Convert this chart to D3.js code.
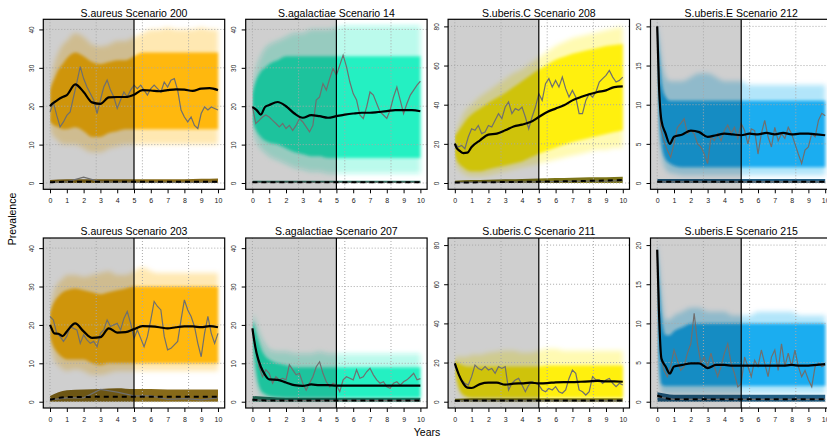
<!DOCTYPE html>
<html>
<head>
<meta charset="utf-8">
<script src="https://cdn.jsdelivr.net/npm/d3@7"></script>
<style>
body{margin:0;background:#fff;}
svg{display:block;font-family:"Liberation Sans",Arial,sans-serif;}
</style>
</head>
<body>
<div id="chart"></div>
<script>
// Scenario simulation panels: 2 rows x 4 pathogens
// band = envelope of the simulated runs, black = mean, grey = one observed run

const bandYears = [0, 0.1, 0.25, 0.5, 0.75, 1, 1.5, 2, 2.5, 3, 3.5, 4, 4.5, 5, 5.5, 6, 6.5, 7, 7.5, 8, 8.5, 9, 9.5, 10];
const obsYears = [0, 0.2, 0.4, 0.6, 0.8, 1, 1.2, 1.4, 1.6, 1.8, 2, 2.2, 2.4, 2.6, 2.8, 3, 3.2, 3.4, 3.6, 3.8, 4, 4.2, 4.4, 4.6, 4.8,
                  5, 5.2, 5.4, 5.6, 5.8, 6, 6.2, 6.4, 6.6, 6.8, 7, 7.2, 7.4, 7.6, 7.8, 8, 8.2, 8.4, 8.6, 8.8, 9, 9.2, 9.4, 9.6, 9.8, 10];
const lowYears = [0, 1, 2, 3, 4, 5, 6, 7, 8, 9, 10];
const xTicks = [0, 1, 2, 3, 4, 5, 6, 7, 8, 9, 10];
const gridYears = [0, 2.75, 5.5, 8.25];
const yTicks40 = [0, 10, 20, 30, 40];
const yTicks80 = [0, 20, 40, 60, 80];
const yTicks20 = [0, 5, 10, 15, 20];

// ---- S.aureus Scenario 200
const mean200 = [20, 20.5, 21, 21.8, 22.4, 22.9, 25.7, 23.7, 21.0, 20.6, 22.3, 22.4, 22.4, 23, 24.2, 24.1, 23.9, 24.2, 24.4, 24.3, 24, 24.6, 24.7, 24.2];
const innerHi200 = [24, 25.5, 27, 29.5, 31, 32.5, 34, 33, 31.5, 31, 31.5, 32, 32, 33, 34, 34, 34, 34, 34, 34, 34, 34, 34, 34];
const innerLo200 = [16, 15.5, 15, 14.5, 14, 14, 14.5, 13.5, 12, 12, 13, 13.5, 14, 14, 14, 14, 14, 14, 14, 14, 14, 14, 14, 14];
const outerHi200 = [25, 28, 31, 34, 36, 37, 39, 38, 36, 35.5, 36, 37, 37, 38, 39, 40, 40, 40.5, 40, 40, 40, 40.5, 40, 40];
const outerLo200 = [15, 13, 12, 11, 10, 10, 10, 9, 8, 8, 9, 9.5, 10, 10, 10, 10, 10, 10, 10, 10, 10, 10, 10, 10];
const obs200 = [18.5, 21, 17.6, 14.6, 15.9, 17.6, 18.5, 22.4, 26.3, 30.3, 27.2, 25, 23.3, 21.6, 18.1, 21.6, 25, 26.8, 24.2, 22.4, 19.4, 21.6, 23.7, 22.4, 24.2,
                25.5, 24.6, 25.5, 24.2, 22.9, 24.6, 25.5, 24.6, 23.7, 26.3, 25, 26.8, 27.2, 24.2, 19, 17.2, 15.9, 17.2, 15, 14.2, 18.1, 19.8, 19, 19.8, 19.4, 19];
const lowHi200 = [0.8, 1, 1, 1, 1, 1, 1, 1, 1, 1.1, 1.2];
const lowMean200 = [0.2, 0.3, 0.3, 0.3, 0.3, 0.3, 0.3, 0.3, 0.3, 0.3, 0.3];
const lowObs200 = [0.2, 0.3, 1.5, 0.3, 0.2, 0.2, 0.2, 0.2, 0.2, 0.2, 0.2];

// ---- S.agalactiae Scenario 14
const mean14 = [19.8, 19.5, 19, 17.8, 19.8, 20.3, 21.1, 20, 18.1, 17.0, 17.7, 17.4, 17, 17.4, 17.8, 18.1, 18.3, 18.3, 18.5, 18.7, 19, 19, 19, 18.7];
const innerHi14 = [23, 25, 27, 29, 30, 31, 32, 33, 33, 33, 33, 33, 33, 33, 33, 33, 33, 33, 33, 33, 33, 33, 33, 33];
const innerLo14 = [17, 15, 13.5, 12, 11, 10.5, 10, 9, 8, 7.5, 7, 7, 6.5, 6.5, 6.5, 6.5, 6.5, 6.5, 6.5, 6.5, 6.5, 6.5, 6.5, 6.5];
const outerHi14 = [24, 27, 30, 33, 35, 36, 37, 38, 39, 39, 40, 40, 40, 40.5, 41, 41, 41, 41, 41, 41, 41, 41, 41, 41];
const outerLo14 = [16, 13, 11, 9, 8, 7, 6, 5, 4, 3.5, 3, 3, 2.5, 2.5, 2.5, 2.5, 2.5, 2.5, 2.5, 2.5, 2.5, 2.5, 2.5, 2.5];
const obs14 = [20, 15.5, 16.3, 17.2, 17.7, 17.2, 16.3, 15.5, 14.6, 15.5, 14.2, 15, 13.7, 15, 16.8, 15.9, 14.6, 13.3, 15, 21.6, 22.4, 25.9, 24.2, 27.2, 29.8,
               28.1, 30.7, 33.3, 30.3, 26.3, 23.3, 21.6, 17.7, 16.8, 19.8, 23.7, 22.9, 20.7, 18.5, 17.7, 16.8, 19, 22.4, 25, 21.6, 18.1, 20.7, 22.9, 24.2, 25.5, 26.5];
const lowHi14 = [0.6, 0.6, 0.6, 0.6, 0.6, 0.6, 0.6, 0.6, 0.6, 0.6, 0.6];
const lowMean14 = [0.2, 0.2, 0.2, 0.2, 0.2, 0.2, 0.2, 0.2, 0.2, 0.2, 0.2];
const lowObs14 = [0.2, 0.2, 0.2, 0.2, 0.2, 0.2, 0.2, 0.2, 0.2, 0.2, 0.2];

// ---- S.uberis.C Scenario 208
const mean208 = [20.1, 18, 16.7, 15.3, 15.5, 18.4, 21.8, 24.7, 25.2, 26.9, 28.9, 29.8, 31.1, 33.7, 36.3, 38, 39.7, 42.2, 43.9, 45.3, 46.5, 47.3, 49, 49.4];
const innerHi208 = [24, 25, 27, 30, 33, 35, 38, 41, 43.5, 46, 49, 52, 55, 58, 60.5, 63, 64.5, 66, 67, 68, 69, 70, 70.5, 71];
const innerLo208 = [15, 12, 10, 8, 6.5, 6, 6, 7, 8, 9, 10, 11, 13, 15, 16.5, 18, 19.5, 21, 22, 23, 24, 25, 26, 27];
const outerHi208 = [25, 27, 30, 35, 38, 40, 44, 47, 50, 53, 56, 58, 61, 64, 67, 70, 72, 74, 75, 76, 77, 78, 79, 80];
const outerLo208 = [13, 9, 7, 5, 4, 3.5, 3.5, 4, 5, 6, 7, 8, 9, 10, 11, 12, 13, 14, 15, 16, 17, 17, 18, 18];
const obs208 = [20.1, 18.4, 19.2, 17.5, 23.5, 27.7, 26.9, 29.4, 25.2, 26, 29.4, 28.6, 32, 35.4, 32.9, 38.8, 41.4, 35.4, 38, 37.1, 38.8, 33.7, 27.7, 33.7, 38.8,
                45.6, 42.2, 50.7, 53.3, 49, 52.4, 49, 54.1, 48.2, 43.9, 47.3, 43.9, 35.4, 35.4, 42.2, 45.6, 43.9, 46.5, 51.6, 53.3, 55, 57.5, 54.1, 51.6, 52.4, 54.1];
const lowHi208 = [1.2, 1.5, 1.7, 1.9, 2.1, 2.3, 2.5, 2.7, 2.9, 3, 3.2];
const lowMean208 = [0.2, 0.3, 0.4, 0.5, 0.6, 0.7, 0.8, 0.9, 1.1, 1.3, 1.5];
const lowObs208 = [0.2, 0.3, 0.3, 0.4, 0.5, 0.6, 0.7, 0.8, 1, 1, 1.2];

// ---- S.uberis.E Scenario 212
const mean212 = [20, 12.7, 8, 6.3, 5.0, 5.9, 6.2, 6.7, 6.5, 5.9, 6.1, 6.3, 6.2, 6.1, 6.3, 6.2, 6.4, 6.2, 6.4, 6.2, 6.3, 6.3, 6.2, 6.1];
const innerHi212 = [20, 17, 13, 11, 10.5, 10.5, 10.5, 10.5, 10.5, 10.5, 10.5, 10.5, 10.5, 10.5, 10.5, 10.5, 10.5, 10.5, 10.5, 10.5, 10.5, 10.5, 10.5, 10.5];
const innerLo212 = [19, 10, 5, 3, 2.5, 2.2, 2, 2, 2, 2, 2, 2, 2, 2, 2, 2, 2, 2, 2, 2, 2, 2, 2, 2];
const outerHi212 = [20.5, 19, 16, 13.5, 13, 13, 13, 13.5, 14, 14, 13.5, 13, 13, 13, 12.5, 12.5, 12.5, 12.5, 12.5, 12.5, 12.5, 12.5, 12.5, 12.5];
const outerLo212 = [18.5, 8, 3.5, 1.8, 1.3, 1.2, 1, 1, 1, 1, 1, 1, 1, 1, 1, 1, 1, 1, 1, 1, 1, 1, 1, 1];
const obs212 = [20, 7.1, 5.4, 4.2, 3.3, 5, 7.1, 7.6, 8.2, 6.3, 6.7, 6.3, 5, 4.6, 3.7, 2.5, 5.9, 5.4, 6.3, 5.4, 6.7, 7.4, 6.3, 7.1, 5.7,
                7.6, 6.7, 5, 6.9, 6.7, 3.7, 6.3, 8, 5.9, 4.6, 7.1, 5.4, 6.3, 5.7, 7.1, 6.3, 5, 3.7, 2.5, 4.2, 4.6, 6.3, 5.9, 8, 8.9, 8.6];
const lowHi212 = [0.5, 0.5, 0.5, 0.5, 0.5, 0.5, 0.5, 0.5, 0.5, 0.5, 0.5];
const lowMean212 = [0.15, 0.15, 0.15, 0.15, 0.15, 0.15, 0.15, 0.15, 0.15, 0.15, 0.15];
const lowObs212 = [0.15, 0.15, 0.15, 0.15, 0.15, 0.15, 0.15, 0.15, 0.15, 0.15, 0.15];

// ---- S.aureus Scenario 203
const mean203 = [20, 19, 17.8, 17.7, 17.1, 18.3, 20.4, 18.3, 16.6, 16.8, 19.1, 18, 18.1, 18.9, 19.7, 19.6, 19.4, 19.1, 19.4, 19.6, 19.6, 19.4, 19.7, 19.4];
const innerHi203 = [23, 24.5, 26, 27.5, 28.5, 29, 29.5, 29, 28.5, 28, 28.5, 29, 29.5, 30, 30, 30, 30, 30, 30, 30, 30, 30, 30, 30];
const innerLo203 = [17, 15.5, 14, 12.5, 11.5, 11, 11, 11, 10, 9.5, 10, 10, 10, 10, 10, 10, 10, 10, 10, 10, 10, 10, 10, 10];
const outerHi203 = [24, 26.5, 29, 31, 32, 33, 33, 32.5, 33, 33.5, 34, 33, 33, 34, 35, 34, 33.5, 33.5, 33.5, 33.5, 33.5, 33.5, 33.5, 33.5];
const outerLo203 = [16, 13.5, 11, 9.5, 8.5, 8, 8.5, 8, 7, 7, 7.5, 8, 8, 8, 8, 8, 8, 8, 8, 8, 8, 8, 8, 8];
const obs203 = [22.2, 21.3, 17.8, 17, 15.7, 17, 19.6, 19.1, 18.7, 15.2, 17.4, 16.1, 15.2, 15.7, 14.3, 17.8, 18.7, 21.3, 19.6, 20, 20.4, 18.7, 21.7, 23.5, 20.4,
                16.5, 18.7, 16.5, 14.3, 17, 21.3, 26.1, 24.8, 23.9, 17, 13.5, 13.9, 14.8, 15.7, 21.3, 26.5, 23.9, 22.2, 19.6, 15.2, 11.7, 17.8, 22.2, 17.8, 15.2, 17.8];
const lowHi203 = [1.5, 3, 3.2, 3.3, 3.5, 3.3, 3.3, 3.2, 3.2, 3.2, 3.2];
const lowMean203 = [0.5, 1.2, 1.2, 1.3, 1.3, 1.3, 1.3, 1.3, 1.3, 1.3, 1.3];
const lowObs203 = [0.5, 1, 1, 3.2, 2.5, 1.5, 1.5, 0.6, 0.8, 0.5, 1];

// ---- S.agalactiae Scenario 207
const mean207 = [19.1, 16.1, 12.6, 9.1, 7, 5.8, 5.7, 5, 4.3, 4.1, 4.5, 4.3, 4.3, 4.2, 4.2, 4.2, 4.2, 4.2, 4.2, 4.2, 4.2, 4.2, 4.2, 4.2];
const innerHi207 = [21, 20, 17.5, 14, 12, 11, 10, 9.5, 9, 9, 9, 9, 9, 9, 9, 9, 9, 9, 9, 9, 9, 9, 9, 9];
const innerLo207 = [17, 12, 7, 3, 2, 1.5, 1.2, 1, 1, 1, 1, 1, 1, 1, 1, 1, 1, 1, 1, 1, 1, 1, 1, 1];
const outerHi207 = [23, 22, 20, 17, 15, 13.5, 13, 13, 12.5, 12.5, 12.5, 13, 12.5, 12.5, 12.5, 12.5, 12.5, 12.5, 12.5, 12.5, 12.5, 12.5, 12.5, 12.5];
const outerLo207 = [16, 10, 5, 1.5, 1, 0.8, 0.6, 0.5, 0.5, 0.5, 0.5, 0.5, 0.5, 0.5, 0.5, 0.5, 0.5, 0.5, 0.5, 0.5, 0.5, 0.5, 0.5, 0.5];
const obs207 = [19.1, 13.5, 9.1, 6.5, 8.3, 7.4, 4.8, 6.5, 5.7, 6.1, 5.7, 9.6, 8.3, 7, 7.4, 4.8, 3, 4.8, 6.5, 9.1, 10.4, 7.4, 5.2, 3.9, 4.8,
                4.3, 2.6, 5.7, 6.5, 6.1, 5.7, 8.3, 6.1, 6.5, 7.8, 8.7, 7, 5.7, 4.8, 5.2, 3.9, 3.5, 4.8, 5.2, 4.3, 5.2, 5.7, 6.5, 7.4, 5.7, 6];
const lowHi207 = [1.5, 1.2, 1, 1, 1, 1, 1, 1, 1, 1, 1];
const lowMean207 = [0.5, 0.3, 0.3, 0.3, 0.3, 0.3, 0.3, 0.3, 0.3, 0.3, 0.3];
const lowObs207 = [0.5, 0.3, 0.3, 0.3, 0.3, 0.3, 0.3, 0.3, 0.3, 0.3, 0.3];

// ---- S.uberis.C Scenario 211
const mean211 = [19.6, 17, 13.6, 9.4, 7.2, 7.0, 9.0, 9.7, 9.7, 8.7, 9.2, 9.4, 9.7, 9.4, 9.5, 9.9, 10, 10, 10.2, 10.4, 10.6, 10.4, 10.4, 10.2];
const innerHi211 = [21, 20.5, 19.5, 18.5, 18, 18, 18, 18, 18, 18, 18, 18, 18, 18, 18.5, 18.5, 18.5, 18.5, 18.5, 18.5, 18.5, 18.5, 18.5, 18.5];
const innerLo211 = [17, 12, 7, 3.5, 2.5, 2, 2, 2, 2, 2, 2, 2, 2, 2, 2, 2, 2, 2, 2, 2, 2, 2, 2, 2];
const outerHi211 = [23, 23, 23, 23, 23, 24, 24, 25, 25.5, 26, 26, 25, 25, 26, 27, 27, 26, 26, 26, 26, 26, 26, 26, 26];
const outerLo211 = [16, 10, 5, 2, 1.2, 1, 1, 1, 1, 1, 1, 1, 1, 1, 1, 1, 1, 1, 1, 1, 1, 1, 1, 1];
const obs211 = [19.6, 14.5, 11.1, 9.4, 8.5, 12.8, 18.7, 17, 16.2, 17.9, 16.2, 17, 14.5, 17.9, 17, 17.9, 6, 9.4, 11.1, 11.9, 8.5, 5.1, 8.5, 10.2, 9.4,
                8.5, 6, 5.1, 6.8, 6, 7.7, 5.1, 4.3, 6, 11.9, 16.2, 14.5, 6, 5.1, 3.4, 5.1, 12.8, 11.1, 11.1, 9.4, 11.1, 11.9, 9.4, 7.7, 9.4, 8.5];
const lowHi211 = [1.5, 1.8, 1.8, 1.8, 1.8, 1.8, 1.8, 1.8, 1.8, 1.8, 1.8];
const lowMean211 = [0.5, 0.6, 0.6, 0.6, 0.6, 0.6, 0.6, 0.6, 0.6, 0.6, 0.6];
const lowObs211 = [0.5, 0.4, 0.4, 0.4, 0.4, 0.4, 0.4, 0.4, 0.4, 0.4, 0.4];

// ---- S.uberis.E Scenario 215
const mean215 = [19.4, 11.7, 5.5, 4.5, 3.6, 4.5, 4.7, 4.9, 4.9, 4.3, 4.7, 4.7, 4.6, 4.6, 4.6, 4.6, 4.6, 4.6, 4.6, 4.7, 4.6, 4.6, 4.7, 4.8];
const innerHi215 = [20, 16, 11, 8.5, 8.5, 9, 9.5, 10, 10, 10, 10, 10, 10, 10, 10, 10, 10, 10, 10, 10, 10, 10, 10, 10];
const innerLo215 = [18, 6, 2.2, 2, 2, 2, 2, 2, 2, 2, 2, 2, 2, 2, 2, 2, 2, 2, 2, 2, 2, 2, 2, 2];
const outerHi215 = [20.5, 18, 14, 10.5, 10.5, 11, 11.5, 12, 12, 11.5, 11.5, 11.5, 11, 11, 11, 11.5, 11.5, 11.5, 11.5, 11.5, 11, 11, 11, 11];
const outerLo215 = [17, 4, 1.2, 1, 1, 1, 1, 1, 1, 1, 1, 1, 1, 1, 1, 1, 1, 1, 1, 1, 1, 1, 1, 1];
const obs215 = [19.4, 6.2, 4, 3.2, 4.5, 6.6, 5.3, 4, 4.5, 6.2, 7.4, 11.3, 7.4, 4.9, 5.7, 4.5, 6.2, 4.5, 3.2, 4.5, 6.2, 7.4, 4.9, 3.6, 1.9,
                2.3, 5.7, 4.5, 3.2, 5.3, 4.5, 6.6, 4.9, 3.2, 5.7, 6.6, 4, 7.4, 4.5, 6.2, 4.5, 6.6, 4.5, 3.2, 4, 2.8, 1.9, 4.5, 4.9, 4.5, 4.7];
const lowHi215 = [1.2, 0.9, 0.9, 0.9, 0.9, 0.9, 0.9, 0.9, 0.9, 0.9, 0.9];
const lowMean215 = [0.8, 0.3, 0.3, 0.3, 0.3, 0.3, 0.3, 0.3, 0.3, 0.3, 0.3];
const lowObs215 = [0.6, 0.3, 0.3, 0.3, 0.3, 0.3, 0.3, 0.3, 0.3, 0.3, 0.3];

const panelTitles = ["S.aureus Scenario 200", "S.agalactiae Scenario 14", "S.uberis.C Scenario 208", "S.uberis.E Scenario 212",
                     "S.aureus Scenario 203", "S.agalactiae Scenario 207", "S.uberis.C Scenario 211", "S.uberis.E Scenario 215"];

// colours per pathogen (column)
const bandColors = ["#ffb400", "#14f0bf", "#fff000", "#12a8f0"];
const lowColors = ["#7a5a00", "#0e6650", "#6e6600", "#0b4c75"];
const yMax = [41, 41, 80.4, 20.1];
const yTickSets = [yTicks40, yTicks40, yTicks80, yTicks20];

const W = 827, H = 438;
const boxLeft0 = 43.3, colPitch = 202.4, boxW = 181.4, boxH = 170;
const rowTops = [19.3, 238];

const svg = d3.select("#chart").append("svg").attr("width", W).attr("height", H);
const defs = svg.append("defs");
defs.append("filter").attr("id", "soft").append("feGaussianBlur").attr("stdDeviation", 1.6);
defs.append("filter").attr("id", "softer").append("feGaussianBlur").attr("stdDeviation", 2.8);

class ScenarioPanel {
    constructor(idx, d) {
        const col = idx % 4, row = Math.floor(idx / 4);
        this.left = boxLeft0 + col * colPitch;
        this.top = rowTops[row];
        const ymax = yMax[col];

        this.x = d3.scaleLinear().domain([-0.4, 10.4]).range([this.left, this.left + boxW]);
        this.y = d3.scaleLinear().domain([-0.04 * ymax, 1.04 * ymax]).range([this.top + boxH, this.top]);
        const x = this.x, y = this.y;

        defs.append("clipPath").attr("id", "clip" + idx)
            .append("rect").attr("x", this.left).attr("y", this.top).attr("width", boxW).attr("height", boxH);
        // runs start at year 0, so the blurred bands get their own clip from there
        defs.append("clipPath").attr("id", "runclip" + idx)
            .append("rect").attr("x", x(0)).attr("y", this.top).attr("width", x(10.4) - x(0)).attr("height", boxH);

        const g = svg.append("g").attr("clip-path", "url(#clip" + idx + ")");
        const runs = g.append("g").attr("clip-path", "url(#runclip" + idx + ")");

        const area = (ys, lo, hi) => d3.area()
            .x((v, i) => x(ys[i]))
            .y0((v, i) => y(lo[i]))
            .y1((v, i) => y(hi[i]))
            .curve(d3.curveMonotoneX)(lo);

        // faint spread of the runs
        runs.append("g").attr("filter", "url(#softer)")
            .append("path")
            .attr("d", area(bandYears, d.outerLo, d.outerHi))
            .attr("fill", bandColors[col])
            .attr("opacity", 0.3);
        // dense core of the runs
        runs.append("g").attr("filter", "url(#soft)")
            .append("path")
            .attr("d", area(bandYears, d.innerLo, d.innerHi))
            .attr("fill", bandColors[col])
            .attr("opacity", 0.92);

        // low-prevalence runs near zero
        const zeros = lowYears.map(() => 0);
        runs.append("path")
            .attr("d", area(lowYears, zeros, d.lowHi))
            .attr("fill", lowColors[col])
            .attr("opacity", 0.9);

        // grey shading for the first five years
        g.append("rect")
            .attr("x", x(-0.4)).attr("y", this.top)
            .attr("width", x(5) - x(-0.4)).attr("height", boxH)
            .attr("fill", "#000").attr("opacity", 0.19);

        // dotted grid
        g.selectAll(".vgrid").data(gridYears).enter().append("line")
            .attr("x1", v => x(v)).attr("x2", v => x(v))
            .attr("y1", this.top).attr("y2", this.top + boxH)
            .attr("stroke", "#a8a8a8").attr("stroke-width", 1).attr("stroke-dasharray", "1,2");
        g.selectAll(".hgrid").data(yTickSets[col]).enter().append("line")
            .attr("x1", this.left).attr("x2", this.left + boxW)
            .attr("y1", v => y(v)).attr("y2", v => y(v))
            .attr("stroke", "#a8a8a8").attr("stroke-width", 1).attr("stroke-dasharray", "1,2");

        const line = (ys, vals, curve) => d3.line()
            .x((v, i) => x(ys[i]))
            .y(v => y(v))
            .curve(curve)(vals);

        // observed runs
        g.append("path").attr("d", line(obsYears, d.obs, d3.curveLinear))
            .attr("fill", "none").attr("stroke", "#6f6f6f").attr("stroke-width", 1.2);
        g.append("path").attr("d", line(lowYears, d.lowObs, d3.curveLinear))
            .attr("fill", "none").attr("stroke", "#6f6f6f").attr("stroke-width", 1.2);

        // means
        g.append("path").attr("d", line(bandYears, d.mean, d3.curveMonotoneX))
            .attr("fill", "none").attr("stroke", "#000").attr("stroke-width", 2.2);
        g.append("path").attr("d", line(lowYears, d.lowMean, d3.curveMonotoneX))
            .attr("fill", "none").attr("stroke", "#000").attr("stroke-width", 2)
            .attr("stroke-dasharray", "5,4");

        // year 5 marker
        svg.append("line")
            .attr("x1", x(5)).attr("x2", x(5))
            .attr("y1", this.top).attr("y2", this.top + boxH)
            .attr("stroke", "#000").attr("stroke-width", 1.2);

        // box
        svg.append("rect")
            .attr("x", this.left).attr("y", this.top)
            .attr("width", boxW).attr("height", boxH)
            .attr("fill", "none").attr("stroke", "#000").attr("stroke-width", 1.2);

        // axes
        const xa = svg.append("g")
            .attr("transform", "translate(0," + (this.top + boxH) + ")")
            .call(d3.axisBottom(x).tickValues(xTicks).tickSize(4).tickSizeOuter(0).tickPadding(5));
        xa.select(".domain").remove();
        xa.selectAll("text").attr("font-size", 7).attr("font-family", "Liberation Sans, Arial, sans-serif").attr("fill", "#222");
        xa.selectAll("line").attr("stroke", "#000");

        const ya = svg.append("g")
            .attr("transform", "translate(" + this.left + ",0)")
            .call(d3.axisLeft(y).tickValues(yTickSets[col]).tickSize(4).tickSizeOuter(0));
        ya.select(".domain").remove();
        ya.selectAll("line").attr("stroke", "#000");
        ya.selectAll("text")
            .attr("x", null).attr("dy", null)
            .attr("text-anchor", "middle")
            .attr("transform", "translate(-9.5,0) rotate(-90)")
            .attr("font-size", 6.5).attr("font-family", "Liberation Sans, Arial, sans-serif").attr("fill", "#222");

        // title
        svg.append("text")
            .attr("x", this.left + boxW / 2)
            .attr("y", this.top - 2.8)
            .attr("text-anchor", "middle")
            .attr("font-size", 10.5)
            .text(panelTitles[idx]);
    }
}

const panelData = [
    {mean: mean200, innerHi: innerHi200, innerLo: innerLo200, outerHi: outerHi200, outerLo: outerLo200, obs: obs200, lowHi: lowHi200, lowMean: lowMean200, lowObs: lowObs200},
    {mean: mean14, innerHi: innerHi14, innerLo: innerLo14, outerHi: outerHi14, outerLo: outerLo14, obs: obs14, lowHi: lowHi14, lowMean: lowMean14, lowObs: lowObs14},
    {mean: mean208, innerHi: innerHi208, innerLo: innerLo208, outerHi: outerHi208, outerLo: outerLo208, obs: obs208, lowHi: lowHi208, lowMean: lowMean208, lowObs: lowObs208},
    {mean: mean212, innerHi: innerHi212, innerLo: innerLo212, outerHi: outerHi212, outerLo: outerLo212, obs: obs212, lowHi: lowHi212, lowMean: lowMean212, lowObs: lowObs212},
    {mean: mean203, innerHi: innerHi203, innerLo: innerLo203, outerHi: outerHi203, outerLo: outerLo203, obs: obs203, lowHi: lowHi203, lowMean: lowMean203, lowObs: lowObs203},
    {mean: mean207, innerHi: innerHi207, innerLo: innerLo207, outerHi: outerHi207, outerLo: outerLo207, obs: obs207, lowHi: lowHi207, lowMean: lowMean207, lowObs: lowObs207},
    {mean: mean211, innerHi: innerHi211, innerLo: innerLo211, outerHi: outerHi211, outerLo: outerLo211, obs: obs211, lowHi: lowHi211, lowMean: lowMean211, lowObs: lowObs211},
    {mean: mean215, innerHi: innerHi215, innerLo: innerLo215, outerHi: outerHi215, outerLo: outerLo215, obs: obs215, lowHi: lowHi215, lowMean: lowMean215, lowObs: lowObs215}
];

panelData.forEach((d, i) => new ScenarioPanel(i, d));

// shared axis labels
svg.append("text")
    .attr("transform", "translate(15.5,219) rotate(-90)")
    .attr("text-anchor", "middle")
    .attr("font-size", 10.5)
    .text("Prevalence");
svg.append("text")
    .attr("x", 427).attr("y", 436)
    .attr("text-anchor", "middle")
    .attr("font-size", 10.5)
    .text("Years");
</script>
</body>
</html>
